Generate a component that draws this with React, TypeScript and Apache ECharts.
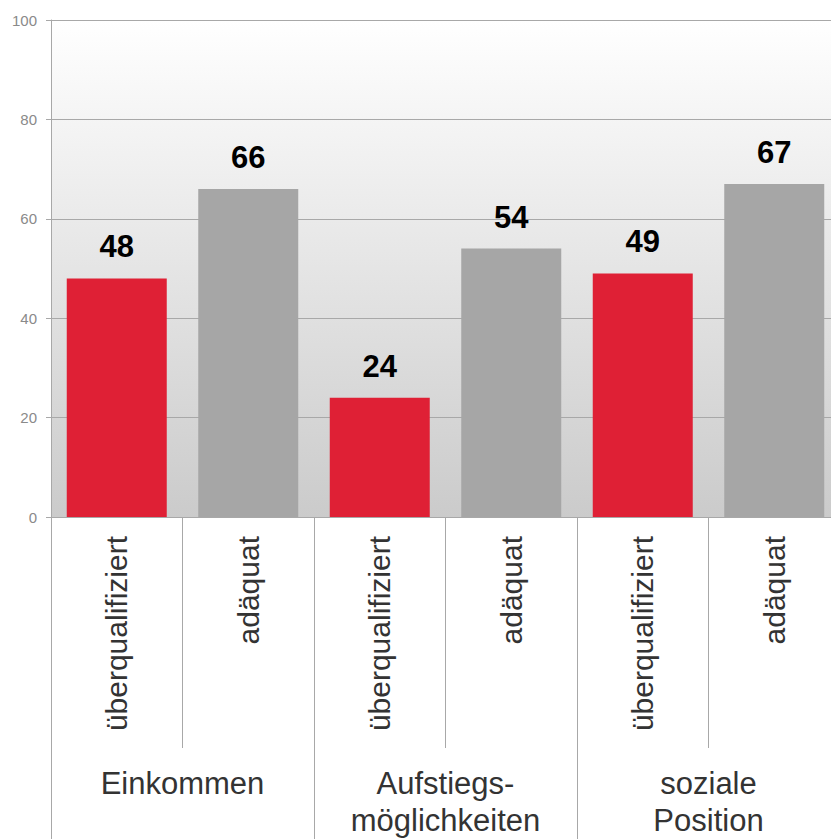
import React, { useEffect, useRef } from "react";
import * as echarts from "echarts";

const groups = ["Einkommen", "Aufstiegs-\nmöglichkeiten", "soziale\nPosition"];
const subLabels = ["überqualifiziert", "adäquat"];
const ueberqualifiziert = [48, 24, 49];
const adaequat = [66, 54, 67];
const colors = ["#df2035", "#a6a6a6"];

export default function App() {
  const ref = useRef<HTMLDivElement>(null);
  useEffect(() => {
    document.body.style.margin = "0";
    const chart = echarts.init(ref.current!, null, { renderer: "svg" });
    const cats: string[] = [];
    const data: any[] = [];
    groups.forEach((g, i) => {
      [ueberqualifiziert[i], adaequat[i]].forEach((v, j) => {
        cats.push(subLabels[j]);
        data.push({ value: v, itemStyle: { color: colors[j] } });
      });
    });
    const font = "'Liberation Sans', Arial, sans-serif";
    const lineCol = "#a8a8a8";
    chart.setOption({
      animation: false,
      textStyle: { fontFamily: font },
      grid: {
        left: 51,
        top: 20,
        width: 789,
        height: 497,
        outerBoundsMode: "none",
        containLabel: false,
        show: true,
        borderWidth: 0,
        backgroundColor: new echarts.graphic.LinearGradient(0, 0, 0, 1, [
          { offset: 0, color: "#ffffff" },
          { offset: 1, color: "#cbcbcb" },
        ]),
      },
      xAxis: [
        {
          type: "category",
          data: cats,
          position: "bottom",
          axisLine: { show: true, lineStyle: { color: lineCol, width: 1 } },
          axisTick: { show: true, length: 231, lineStyle: { color: lineCol } },
          axisLabel: {
            rotate: 90,
            margin: 19,
            fontSize: 30,
            color: "#333333",
            fontFamily: font,
            interval: 0,
          },
          splitLine: { show: false },
        },
        {
          type: "category",
          data: groups,
          position: "bottom",
          axisLine: { show: false },
          axisTick: { show: true, length: 330, lineStyle: { color: lineCol } },
          axisLabel: {
            margin: 248,
            fontSize: 31,
            lineHeight: 37,
            color: "#333333",
            fontFamily: font,
            verticalAlign: "top",
            interval: 0,
          },
          splitLine: { show: false },
        },
      ],
      yAxis: {
        type: "value",
        min: 0,
        max: 100,
        interval: 20,
        axisLine: { show: true, lineStyle: { color: lineCol } },
        axisTick: { show: true, length: 5, lineStyle: { color: lineCol } },
        axisLabel: { margin: 14, fontSize: 15, color: "#8a8a8a", fontFamily: font },
        splitLine: { show: true, lineStyle: { color: lineCol, width: 1 } },
      },
      series: [
        {
          type: "bar",
          xAxisIndex: 0,
          data,
          barWidth: 100,
          label: {
            show: true,
            position: "top",
            distance: 16,
            fontSize: 31,
            fontWeight: "bold",
            color: "#000000",
            fontFamily: font,
          },
        },
      ],
    });
    return () => chart.dispose();
  }, []);
  return <div ref={ref} style={{ width: 831, height: 839 }} />;
}
